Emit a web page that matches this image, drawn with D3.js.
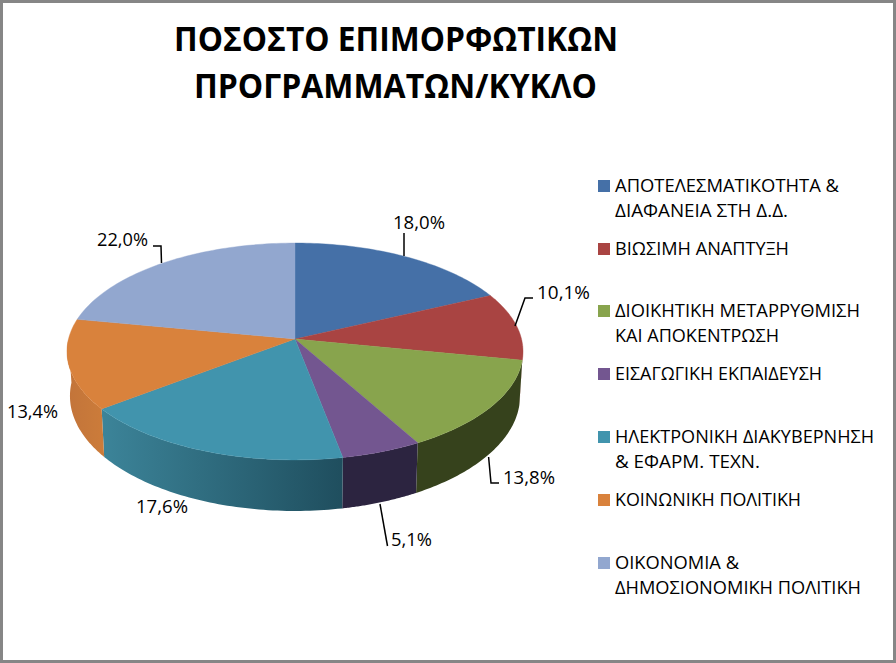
<!DOCTYPE html>
<html><head><meta charset="utf-8">
<script src="https://cdn.jsdelivr.net/npm/d3@7/dist/d3.min.js"></script>
<style>html,body{margin:0;padding:0;background:#fff}svg{display:block}text{font-family:"Open Sans","Noto Sans",sans-serif;fill:#000}</style>
</head><body><script>
const titleLines = ["ΠΟΣΟΣΤΟ ΕΠΙΜΟΡΦΩΤΙΚΩΝ", "ΠΡΟΓΡΑΜΜΑΤΩΝ/ΚΥΚΛΟ"];
const categories = [
  ["ΑΠΟΤΕΛΕΣΜΑΤΙΚΟΤΗΤΑ &", "ΔΙΑΦΑΝΕΙΑ ΣΤΗ Δ.Δ."],
  ["ΒΙΩΣΙΜΗ ΑΝΑΠΤΥΞΗ"],
  ["ΔΙΟΙΚΗΤΙΚΗ ΜΕΤΑΡΡΥΘΜΙΣΗ", "ΚΑΙ ΑΠΟΚΕΝΤΡΩΣΗ"],
  ["ΕΙΣΑΓΩΓΙΚΗ ΕΚΠΑΙΔΕΥΣΗ"],
  ["ΗΛΕΚΤΡΟΝΙΚΗ ΔΙΑΚΥΒΕΡΝΗΣΗ", "& ΕΦΑΡΜ. ΤΕΧΝ."],
  ["ΚΟΙΝΩΝΙΚΗ ΠΟΛΙΤΙΚΗ"],
  ["ΟΙΚΟΝΟΜΙΑ &", "ΔΗΜΟΣΙΟΝΟΜΙΚΗ ΠΟΛΙΤΙΚΗ"]
];
const values = [18.0, 10.1, 13.8, 5.1, 17.6, 13.4, 22.0];
const topColors = ["#4570a7", "#a94442", "#88a44d", "#735690", "#4194ad", "#d9823c", "#92a7cf"];
const wallFrom = ["#4570a7", "#a94442", "#36421c", "#2c2440", "#3c8499", "#c2743a", "#92a7cf"];
const wallTo = ["#4570a7", "#a94442", "#36421c", "#2c2440", "#1f4e5e", "#cc7c3a", "#92a7cf"];

const W = 896, H = 663;
const svg = d3.select("body").append("svg").attr("width", W).attr("height", H);
svg.append("rect").attr("x", 1.5).attr("y", 1.5).attr("width", W - 3).attr("height", H - 3)
  .attr("fill", "#fff").attr("stroke", "#868686").attr("stroke-width", 3);

// Perspective projection of the pie's top and bottom discs
const cx = 295, cy = 339, a = 226.5, b = 107, k = 0.115;
const project = (t, bottom) => {
  const w = 1 + k * Math.cos(t);
  const X = a * Math.sin(t) / w, Y = -b * Math.cos(t) / w;
  return bottom ? [cx + 0.987 * X, cy + 43.8 + 1.06 * Y] : [cx + X, cy + Y];
};
const arcs = d3.pie().sort(null).value(d => d)(values);
const line = d3.line();
const samples = (s, e) => d3.range(0, 61).map(i => s + (e - s) * i / 60);

const defs = svg.append("defs");
const wallMin = 95 * Math.PI / 180, wallMax = 270 * Math.PI / 180;

// Side walls
arcs.forEach((d, i) => {
  const s = Math.max(d.startAngle, wallMin), e = Math.min(d.endAngle, wallMax);
  if (e <= s) return;
  const ts = samples(s, e);
  const pts = ts.map(t => project(t, false)).concat(ts.slice().reverse().map(t => project(t, true)));
  const xs = pts.map(p => p[0]);
  const id = "wall" + i;
  const g = defs.append("linearGradient").attr("id", id).attr("gradientUnits", "userSpaceOnUse")
    .attr("x1", d3.min(xs)).attr("x2", d3.max(xs)).attr("y1", 0).attr("y2", 0);
  g.append("stop").attr("offset", 0).attr("stop-color", wallFrom[i]);
  g.append("stop").attr("offset", 1).attr("stop-color", wallTo[i]);
  svg.append("path").attr("d", line(pts) + "Z").attr("fill", `url(#${id})`);
});

// Top surface
arcs.forEach((d, i) => {
  const pts = [[cx, cy]].concat(samples(d.startAngle, d.endAngle).map(t => project(t, false)));
  svg.append("path").attr("d", line(pts) + "Z").attr("fill", topColors[i])
    .attr("stroke", topColors[i]).attr("stroke-width", 0.4);
});

// Leader lines
const leaders = [
  [[404, 233], [404, 256]],
  [[533, 298], [525, 298], [515, 326]],
  [[499, 483], [491, 483], [488.6, 457]],
  [[387.5, 546], [380, 504]],
  [[153, 246], [161, 246], [161.5, 263]]
];
leaders.forEach(l => svg.append("path").attr("d", line(l)).attr("fill", "none")
  .attr("stroke", "#000").attr("stroke-width", 1.5));

// Data labels
const labelBoxes = [[393, 229, 52], [537, 299, 53], [503, 484, 52], [391, 546, 41], [136, 513, 52], [7, 418, 51], [97, 246, 51]];
values.forEach((v, i) => {
  const [x, y, w] = labelBoxes[i];
  svg.append("text").attr("x", x).attr("y", y).attr("font-size", 18)
    .attr("textLength", w).attr("lengthAdjust", "spacingAndGlyphs")
    .text(v.toFixed(1).replace(".", ",") + "%");
});

// Title
[[174, 51, 444], [194, 98, 403]].forEach(([x, y, w], i) => {
  svg.append("text").attr("x", x).attr("y", y).attr("font-size", 34.5).attr("font-weight", 700)
    .attr("textLength", w).attr("lengthAdjust", "spacingAndGlyphs").text(titleLines[i]);
});

// Legend
const legendBase = [192, 255, 317, 380, 443, 506, 569];
const legendWidths = [[224, 173], [174], [245, 164], [207], [259, 145], [186], [124, 246]];
const lineGap = 25;
categories.forEach((lines, i) => {
  svg.append("rect").attr("x", 598).attr("y", legendBase[i] - 12).attr("width", 12).attr("height", 12)
    .attr("fill", topColors[i]);
  lines.forEach((t, j) => {
    svg.append("text").attr("x", 615).attr("y", legendBase[i] + j * lineGap).attr("font-size", 18)
      .attr("textLength", legendWidths[i][j]).attr("lengthAdjust", "spacingAndGlyphs").text(t);
  });
});
</script></body></html>
